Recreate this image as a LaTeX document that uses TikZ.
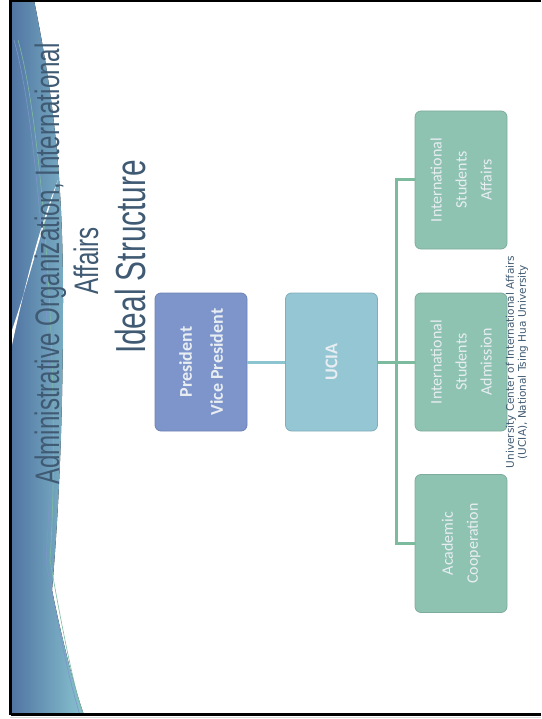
\documentclass[tikz,border=0pt]{standalone}
\usepackage{fontspec}
\setmainfont{Liberation Sans}
\newfontfamily\titlefont[FakeStretch=0.71]{Liberation Sans}
\newfontfamily\boxfont{Carlito}
\newfontfamily\notefont{DejaVu Sans}

\definecolor{titleblue}{HTML}{3F5A72}
\definecolor{presblue}{HTML}{7D95CB}
\definecolor{uciablue}{HTML}{94C6D3}
\definecolor{unitgreen}{HTML}{8FC3B1}
\definecolor{linkblue}{HTML}{8CC5CF}
\definecolor{linkgreen}{HTML}{7DBB9F}
\definecolor{boxtext}{HTML}{E8EDF2}
\definecolor{waveblue}{HTML}{5175A3}
\definecolor{waveteal}{HTML}{88C3CF}

\tikzset{
  orgbox/.style={rectangle, rounded corners=6pt, rotate=90, align=center,
    minimum width=138pt, minimum height=92pt, inner sep=0pt,
    text=boxtext, line width=0.8pt},
  headbox/.style={orgbox, font=\boxfont\bfseries\fontsize{18}{31}\selectfont},
  unitbox/.style={orgbox, fill=unitgreen, draw=unitgreen!88!black,
    font=\boxfont\fontsize{16}{25}\selectfont},
  titleline/.style={rotate=90, anchor=base, text=titleblue},
  link/.style={line width=3pt}
}

\begin{document}
\begin{tikzpicture}[x=1pt,y=-1pt]
\useasboundingbox (0,0) rectangle (541,719);

% wave at the slide edge
\fill[left color=waveblue, right color=waveteal]
  (12,0) -- (34,0) .. controls (52,90) and (63,170) .. (63,300)
  .. controls (63,430) and (58,520) .. (52,590)
  .. controls (62,640) and (75,690) .. (84,715) -- (12,715) -- cycle;
\fill[white] (12,345) .. controls (24,290) and (38,230) .. (58,180)
  .. controls (40,235) and (26,290) .. (12,330) -- cycle;
\draw[presblue, line width=0.6pt] (14,40) .. controls (40,130) and (58,400) .. (46,560)
  .. controls (60,640) and (72,690) .. (80,715);
\draw[linkgreen, line width=0.6pt] (18,40) .. controls (44,130) and (61,400) .. (50,560)
  .. controls (64,640) and (75,690) .. (83,715);

% slide frame
\draw[black, line width=3pt] (10.5,715) -- (10.5,1) -- (541,1);
\draw[black, line width=3pt] (10.5,714.5) -- (541,714.5);
\draw[black!15, line width=1pt] (10,717.5) -- (541,717.5);

% title
\node[titleline, font=\titlefont\fontsize{34}{38}\selectfont] (title1) at (59,264)
  {Administrative Organization, International};
\node[titleline, font=\titlefont\fontsize{34}{38}\selectfont] (title2) at (98,261)
  {Affairs};
\node[titleline, font=\titlefont\fontsize{42}{46}\selectfont] (title3) at (145,257)
  {Ideal Structure};

% organisation chart
\node[headbox, fill=presblue, draw=presblue!88!black] (pres) at (201,362)
  {President\\Vice President};
\node[headbox, fill=uciablue, draw=uciablue!88!black] (ucia) at (331.5,362)
  {UCIA};
\node[unitbox] (affairs) at (461,180) {International\\Students\\Affairs};
\node[unitbox] (admission) at (461,362) {International\\Students\\Admission};
\node[unitbox] (academic) at (461,543.5) {Academic\\Cooperation};

\draw[link, linkblue] (pres) -- (ucia);
\draw[link, linkgreen] (ucia.south) -- (admission.north);
\draw[link, linkgreen] (affairs.north) -- ++(-18,0) |- (academic.north);

% footer
\node[rotate=90, align=center, text=titleblue, font=\notefont\fontsize{10.5}{12}\selectfont]
  (footer) at (517,362)
  {University Center of International Affairs\\(UCIA), National Tsing Hua University};
\end{tikzpicture}
\end{document}
